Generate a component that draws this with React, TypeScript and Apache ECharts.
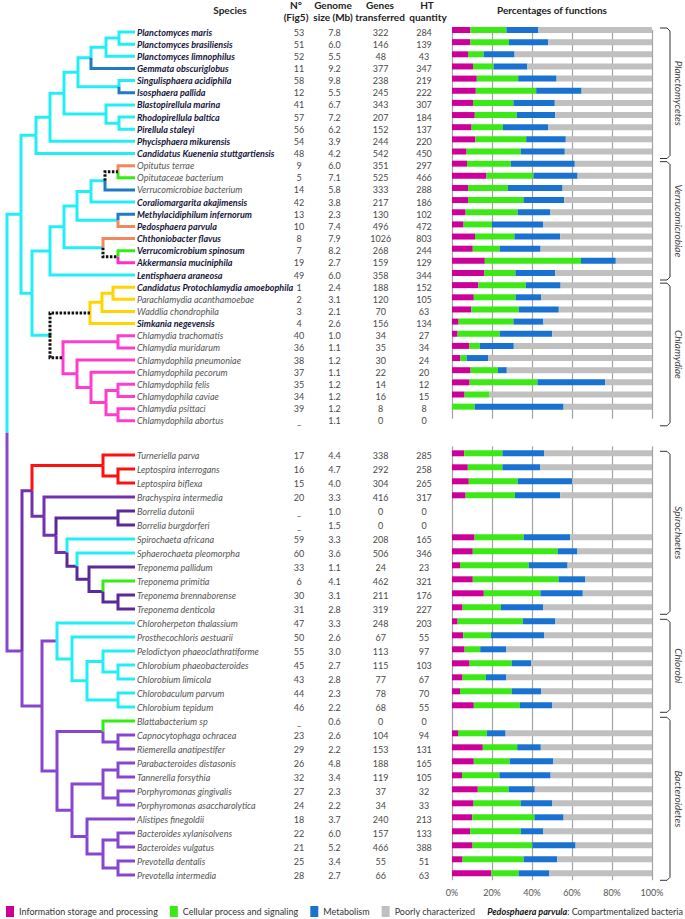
import React, { useEffect, useRef } from "react";
import * as echarts from "echarts";

const FONT = "Lato, 'Noto Sans', sans-serif";

// ---------- colours ----------
const C_INFO = "#cc0099";
const C_CELL = "#3de817";
const C_META = "#1a72d0";
const C_POOR = "#c0c0c0";

const CY = "#22eef6";
const DB = "#1e7bc6";
const OR = "#f2895c";
const GR = "#33ee11";
const MG = "#ff2ecb";
const YE = "#ffd400";
const PK = "#ff3dcc";
const BK = "#111111";
const RD = "#ff1010";
const SP = "#7232b0";
const DP = "#5a2a98";
const BP = "#8746d0";

// ---------- data: top block ----------
const speciesTop = [
  "Planctomyces maris", "Planctomyces brasiliensis", "Planctomyces limnophilus", "Gemmata obscuriglobus",
  "Singulisphaera acidiphila", "Isosphaera pallida", "Blastopirellula marina", "Rhodopirellula baltica",
  "Pirellula staleyi", "Phycisphaera mikurensis", "Candidatus Kuenenia stuttgartiensis", "Opitutus terrae",
  "Opitutaceae bacterium", "Verrucomicrobiae bacterium", "Coraliomargarita akajimensis", "Methylacidiphilum infernorum",
  "Pedosphaera parvula", "Chthoniobacter flavus", "Verrucomicrobium spinosum", "Akkermansia muciniphila",
  "Lentisphaera araneosa", "Candidatus Protochlamydia amoebophila", "Parachlamydia acanthamoebae", "Waddlia chondrophila",
  "Simkania negevensis", "Chlamydia trachomatis", "Chlamydia muridarum", "Chlamydophila pneumoniae",
  "Chlamydophila pecorum", "Chlamydophila felis", "Chlamydophila caviae", "Chlamydia psittaci", "Chlamydophila abortus",
];
const figTop = [53, 51, 52, 11, 58, 12, 41, 57, 56, 54, 48, 9, 5, 14, 42, 13, 10, 8, 7, 19, 49, 1, 2, 3, 4, 40, 36, 38, 37, 35, 34, 39, null];
const genomeTop = [7.8, 6.0, 5.5, 9.2, 9.8, 5.5, 6.7, 7.2, 6.2, 3.9, 4.2, 6.0, 7.1, 5.8, 3.8, 2.3, 7.4, 7.9, 8.2, 2.7, 6.0, 2.4, 3.1, 2.1, 2.6, 1.0, 1.1, 1.2, 1.1, 1.2, 1.2, 1.2, 1.1];
const genesTop = [322, 146, 48, 377, 238, 245, 343, 207, 152, 244, 542, 351, 525, 333, 217, 130, 496, 1026, 268, 159, 358, 188, 120, 70, 156, 34, 35, 30, 22, 14, 16, 8, 0];
const htTop = [284, 139, 43, 347, 219, 222, 307, 184, 137, 220, 450, 297, 466, 288, 186, 102, 472, 803, 244, 129, 344, 152, 105, 63, 134, 27, 34, 24, 20, 12, 15, 8, 0];
const infoTop = [9.2, 9.2, 8.0, 10.5, 12.4, 11.9, 10.5, 11.4, 9.8, 11.7, 7.3, 7.5, 17.2, 8.0, 8.0, 6.8, 5.8, 11.5, 10.4, 16.4, 16.2, 13.2, 10.9, 9.7, 3.3, 2.8, 8.7, 4.2, 9.3, 8.8, 6.3, 0, null];
const cellTop = [18.0, 19.3, 7.8, 10.3, 20.7, 30.2, 20.2, 21.0, 15.7, 25.4, 27.1, 21.9, 23.5, 19.9, 27.7, 26.0, 14.2, 19.7, 13.4, 48.1, 15.5, 23.7, 20.9, 23.7, 27.4, 21.1, 5.2, 3.1, 13.7, 33.9, 12.5, 11.4, null];
const metaTop = [16.0, 19.6, 15.5, 16.9, 19.2, 22.7, 20.7, 19.2, 22.7, 19.8, 22.0, 32.0, 22.1, 27.4, 20.4, 16.4, 25.5, 22.9, 20.5, 17.4, 19.9, 17.4, 12.7, 20.0, 15.0, 26.2, 17.0, 10.7, 4.4, 33.9, 0, 44.4, null];
const poorTop = [56.8, 51.9, 68.7, 62.3, 47.7, 35.2, 48.6, 48.4, 51.8, 43.1, 43.6, 38.6, 37.2, 44.7, 43.9, 50.8, 54.5, 45.9, 55.7, 18.1, 48.4, 45.7, 55.5, 46.6, 54.3, 49.9, 69.1, 82.0, 72.6, 23.4, 81.2, 44.2, null];

// ---------- data: bottom block ----------
const speciesBottom = [
  "Turneriella parva", "Leptospira interrogans", "Leptospira biflexa", "Brachyspira intermedia", "Borrelia dutonii",
  "Borrelia burgdorferi", "Spirochaeta africana", "Sphaerochaeta pleomorpha", "Treponema pallidum", "Treponema primitia",
  "Treponema brennaborense", "Treponema denticola", "Chloroherpeton thalassium", "Prosthecochloris aestuarii",
  "Pelodictyon phaeoclathratiforme", "Chlorobium phaeobacteroides", "Chlorobium limicola", "Chlorobaculum parvum",
  "Chlorobium tepidum", "Blattabacterium sp", "Capnocytophaga ochracea", "Riemerella anatipestifer",
  "Parabacteroides distasonis", "Tannerella forsythia", "Porphyromonas gingivalis", "Porphyromonas asaccharolytica",
  "Alistipes finegoldii", "Bacteroides xylanisolvens", "Bacteroides vulgatus", "Prevotella dentalis", "Prevotella intermedia",
];
const figBottom = [17, 16, 15, 20, null, null, 59, 60, 33, 6, 30, 31, 47, 50, 55, 45, 43, 44, 46, null, 23, 29, 26, 32, 27, 24, 18, 22, 21, 25, 28];
const genomeBottom = [4.4, 4.7, 4.0, 3.3, 1.0, 1.5, 3.3, 3.6, 1.1, 4.1, 3.1, 2.8, 3.3, 2.6, 3.0, 2.7, 2.8, 2.3, 2.2, 0.6, 2.6, 2.2, 4.8, 3.4, 2.3, 2.2, 3.7, 6.0, 5.2, 3.4, 2.7];
const genesBottom = [338, 292, 304, 416, 0, 0, 208, 506, 24, 462, 211, 319, 248, 67, 113, 115, 77, 78, 68, 0, 104, 153, 188, 119, 37, 34, 240, 157, 466, 55, 66];
const htBottom = [285, 258, 265, 317, 0, 0, 165, 346, 23, 321, 176, 227, 203, 55, 97, 103, 67, 70, 55, 0, 94, 131, 165, 105, 32, 33, 213, 133, 388, 51, 63];
const infoBottom = [6.1, 7.9, 8.4, 6.8, null, null, 11.3, 10.4, 4.0, 10.4, 15.9, 5.3, 2.8, 5.6, 6.3, 8.8, 5.3, 4.0, 10.9, null, 3.0, 15.4, 10.9, 5.0, 12.9, 10.8, 10.1, 9.1, 10.3, 5.3, 19.7];
const cellBottom = [19.1, 17.3, 24.5, 24.7, null, null, 24.5, 42.4, 34.4, 42.9, 28.3, 19.2, 32.6, 13.9, 7.8, 21.0, 11.6, 25.8, 23.0, null, 14.4, 17.2, 17.9, 18.7, 15.4, 23.5, 31.1, 25.3, 29.9, 30.5, 13.6];
const metaBottom = [21.0, 19.0, 27.2, 22.6, null, null, 23.3, 9.9, 19.4, 13.4, 21.2, 21.0, 16.1, 26.5, 13.1, 9.9, 10.1, 14.7, 16.3, null, 9.4, 11.8, 21.9, 25.6, 13.1, 15.9, 14.6, 11.3, 21.6, 16.8, 15.4];
const poorBottom = [53.8, 55.8, 39.9, 45.9, null, null, 40.9, 37.3, 42.2, 33.3, 34.6, 54.5, 48.5, 54.0, 72.8, 60.3, 73.0, 55.5, 49.8, null, 73.2, 55.6, 49.3, 50.7, 58.6, 49.8, 44.2, 54.3, 38.2, 47.4, 51.3];

const boldSpecies = [
  "Planctomyces maris", "Planctomyces brasiliensis", "Planctomyces limnophilus", "Gemmata obscuriglobus",
  "Singulisphaera acidiphila", "Isosphaera pallida", "Blastopirellula marina", "Rhodopirellula baltica",
  "Pirellula staleyi", "Phycisphaera mikurensis", "Candidatus Kuenenia stuttgartiensis",
  "Coraliomargarita akajimensis", "Methylacidiphilum infernorum", "Pedosphaera parvula", "Chthoniobacter flavus",
  "Verrucomicrobium spinosum", "Akkermansia muciniphila", "Lentisphaera araneosa",
  "Candidatus Protochlamydia amoebophila", "Simkania negevensis",
];

const functionNames = ["Information storage and processing", "Cellular process and signaling", "Metabolism", "Poorly characterized"];
const functionColors = [C_INFO, C_CELL, C_META, C_POOR];
const percentTicks = [0, 20, 40, 60, 80, 100];

const groups = [
  { name: "Planctomycetes", block: 0, from: 0, to: 10 },
  { name: "Verrucomicrobiae", block: 0, from: 11, to: 20 },
  { name: "Chlamydiae", block: 0, from: 21, to: 32 },
  { name: "Spirochaetes", block: 1, from: 0, to: 11 },
  { name: "Chlorobi", block: 1, from: 12, to: 18 },
  { name: "Bacteroidetes", block: 1, from: 19, to: 30 },
];

// ---------- tree (depth of each node, leaves at TREE_MAX) ----------
type TNode = { d?: number; name?: string; ch?: TNode[]; c?: string; dash?: boolean; sub?: string; row?: [number, number] };
const N = (d: number, ch: TNode[], o: Partial<TNode> = {}): TNode => ({ d, ch, ...o });
const L = (name: string, c?: string): TNode => ({ name, c });
const TREE_MAX = 128;

const topTree = N(14, [
  N(29, [
    N(43, [
      N(57, [
        N(71, [
          N(84, [
            N(99, [N(112, [L("Planctomyces maris"), L("Planctomyces brasiliensis")]), L("Planctomyces limnophilus")]),
            L("Gemmata obscuriglobus", DB),
          ]),
          N(112, [L("Singulisphaera acidiphila"), L("Isosphaera pallida", DB)]),
        ]),
        N(99, [L("Blastopirellula marina"), N(112, [L("Rhodopirellula baltica"), L("Pirellula staleyi")])]),
      ]),
      L("Phycisphaera mikurensis"),
    ]),
    L("Candidatus Kuenenia stuttgartiensis"),
  ]),
  N(25, [
    N(43, [
      N(57, [
        N(70, [
          N(84, [
            N(98, [
              N(111, [L("Opitutus terrae", OR), L("Opitutaceae bacterium", GR)], { c: BK, dash: true }),
              L("Verrucomicrobiae bacterium", DB),
            ]),
            L("Coraliomargarita akajimensis"),
          ]),
          N(111, [L("Methylacidiphilum infernorum", DB), L("Pedosphaera parvula", OR)]),
        ]),
        N(96, [
          L("Chthoniobacter flavus", OR),
          N(111, [L("Verrucomicrobium spinosum", GR), L("Akkermansia muciniphila", MG)], { c: BK, dash: true }),
        ]),
      ]),
      L("Lentisphaera araneosa"),
    ]),
    N(43, [
      N(83, [
        N(95, [N(106, [L("Candidatus Protochlamydia amoebophila"), L("Parachlamydia acanthamoebae")]), L("Waddlia chondrophila")]),
        L("Simkania negevensis"),
      ], { c: BK, dash: true, sub: YE }),
      N(56, [
        N(111, [L("Chlamydia trachomatis"), L("Chlamydia muridarum")]),
        N(70, [
          L("Chlamydophila pneumoniae"),
          N(84, [
            L("Chlamydophila pecorum"),
            N(99, [N(111, [L("Chlamydophila felis"), L("Chlamydophila caviae")]), N(111, [L("Chlamydia psittaci"), L("Chlamydophila abortus")])]),
          ]),
        ]),
      ], { c: BK, dash: true, sub: PK }),
    ]),
  ]),
], { c: CY });

const bottomTree = N(15, [
  N(25, [
    N(96, [L("Turneriella parva"), N(111, [L("Leptospira interrogans"), L("Leptospira biflexa")])], { c: RD }),
    N(37, [
      L("Brachyspira intermedia"),
      N(49, [
        N(111, [L("Borrelia dutonii"), L("Borrelia burgdorferi")], { c: DP }),
        N(60, [
          L("Spirochaeta africana", CY),
          N(70, [
            L("Sphaerochaeta pleomorpha", CY),
            N(82, [
              L("Treponema pallidum"),
              N(96, [L("Treponema primitia", GR), N(111, [L("Treponema brennaborense"), L("Treponema denticola")])]),
            ]),
          ], { c: DP }),
        ]),
      ]),
    ]),
  ], { c: SP }),
  N(35, [
    N(50, [
      L("Chloroherpeton thalassium"),
      N(65, [
        L("Prosthecochloris aestuarii"),
        N(80, [
          N(96, [L("Pelodictyon phaeoclathratiforme"), N(111, [L("Chlorobium phaeobacteroides"), L("Chlorobium limicola")])]),
          N(111, [L("Chlorobaculum parvum"), L("Chlorobium tepidum")]),
        ]),
      ]),
    ], { c: BP, sub: CY }),
    N(50, [
      N(96, [L("Blattabacterium sp", GR), N(111, [L("Capnocytophaga ochracea"), L("Riemerella anatipestifer")])]),
      N(65, [
        N(96, [N(111, [L("Parabacteroides distasonis"), L("Tannerella forsythia")]), N(111, [L("Porphyromonas gingivalis"), L("Porphyromonas asaccharolytica")])]),
        N(80, [
          L("Alistipes finegoldii"),
          N(96, [N(111, [L("Bacteroides xylanisolvens"), L("Bacteroides vulgatus")]), N(111, [L("Prevotella dentalis"), L("Prevotella intermedia")])]),
        ]),
      ]),
    ]),
  ], { c: BP }),
], { c: BP, row: [1, 14] });

const treeRoot = N(0, [topTree, bottomTree]);

// ---------- option ----------
const labelAxis = (gridIndex: number, data: string[], margin: number, align: string, formatter: any, extra: any = {}) => ({
  type: "category", gridIndex, data, inverse: true, position: "right",
  axisLine: { show: false, onZero: false }, axisTick: { show: false }, splitLine: { show: false },
  axisLabel: { interval: 0, margin, align, formatter, fontSize: 9, color: "#4a4a4a", fontFamily: FONT, ...extra },
});

const nameFmt = (v: string) => (boldSpecies.includes(v) ? `{b|${v}}` : `{n|${v}}`);
const nameRich = {
  rich: {
    b: { fontWeight: "bold", fontStyle: "italic", fontSize: 9, color: "#15153a", fontFamily: FONT },
    n: { fontStyle: "italic", fontSize: 9, color: "#555", fontFamily: FONT },
  },
};

function columnAxes(gridIndex: number, sp: string[], fig: any[], genome: number[], genes: number[], ht: number[]) {
  return [
    labelAxis(gridIndex, sp, 2, "left", nameFmt, nameRich),
    labelAxis(gridIndex, sp, 164, "center", (_v: string, i: number) => (fig[i] == null ? "_" : String(fig[i]))),
    labelAxis(gridIndex, sp, 199.5, "center", (_v: string, i: number) => genome[i].toFixed(1)),
    labelAxis(gridIndex, sp, 245.7, "center", (_v: string, i: number) => String(genes[i])),
    labelAxis(gridIndex, sp, 289, "center", (_v: string, i: number) => String(ht[i])),
  ];
}

function barSeries(xi: number, yi: number, stack: string, arrays: any[][]) {
  return arrays.map((data, k) => ({
    type: "bar", name: functionNames[k], data, xAxisIndex: xi, yAxisIndex: yi, stack,
    barWidth: 6, clip: false, silent: true, itemStyle: { color: functionColors[k] },
    emphasis: { disabled: true },
  }));
}

function buildOption() {
  const gridBase = { left: 7, width: 128, containLabel: false, outerBoundsMode: "none" };
  const barGrid = { left: 452, width: 200, containLabel: false, outerBoundsMode: "none" };
  const pctAxis = (gridIndex: number, showLabels: boolean) => ({
    type: "value", gridIndex, min: percentTicks[0], max: percentTicks[percentTicks.length - 1], interval: 20,
    axisLine: { show: false }, axisTick: { show: false },
    splitLine: { show: true, lineStyle: { color: "#a3a3a3", width: 1.2 } },
    axisLabel: { show: showLabels, formatter: "{value}%", fontSize: 9, color: "#555", margin: 8, fontFamily: FONT },
  });
  return {
    animation: false,
    backgroundColor: "#ffffff",
    textStyle: { fontFamily: FONT },
    grid: [
      { ...gridBase, top: 25.925, height: 400.95 },
      { ...gridBase, top: 448, height: 434 },
      { ...barGrid, top: 30, height: 388.8 },
      { ...barGrid, top: 446.3, height: 434 },
    ],
    xAxis: [
      { type: "value", gridIndex: 0, min: 0, max: TREE_MAX, show: false },
      { type: "value", gridIndex: 1, min: 0, max: TREE_MAX, show: false },
      pctAxis(2, false),
      pctAxis(3, true),
    ],
    yAxis: [
      ...columnAxes(0, speciesTop, figTop, genomeTop, genesTop, htTop),
      ...columnAxes(1, speciesBottom, figBottom, genomeBottom, genesBottom, htBottom),
      { type: "category", gridIndex: 2, data: speciesTop, inverse: true, boundaryGap: false, show: false, axisLine: { onZero: false } },
      { type: "category", gridIndex: 3, data: speciesBottom, inverse: true, boundaryGap: true, show: false, axisLine: { onZero: false } },
    ],
    legend: {
      data: functionNames, left: 1, top: 901, itemWidth: 8, itemHeight: 11, itemGap: 12, icon: "rect",
      selectedMode: false, textStyle: { fontSize: 9, color: "#333", fontFamily: FONT },
    },
    series: [
      ...barSeries(2, 10, "top", [infoTop, cellTop, metaTop, poorTop]),
      ...barSeries(3, 11, "bottom", [infoBottom, cellBottom, metaBottom, poorBottom]),
    ],
  };
}

function buildGraphics(chart: any) {
  const els: any[] = [];
  const leafIndex: Record<string, [number, number]> = {};
  speciesTop.forEach((s, i) => (leafIndex[s] = [0, i]));
  speciesBottom.forEach((s, i) => (leafIndex[s] = [1, i]));
  const depthPx = (d: number) => chart.convertToPixel({ xAxisIndex: 0 }, d) as number;
  const rowPx = (block: number, i: number) => chart.convertToPixel({ yAxisIndex: block === 0 ? 0 : 5 }, i) as number;
  const barRowPx = (block: number, i: number) => chart.convertToPixel({ yAxisIndex: block === 0 ? 10 : 11 }, i) as number;

  // tree
  const pos = new Map<TNode, { x: number; y: number }>();
  const place = (n: TNode): { x: number; y: number } => {
    let p;
    if (n.name !== undefined) {
      const loc = leafIndex[n.name];
      p = { x: depthPx(TREE_MAX), y: rowPx(loc[0], loc[1]) };
    } else {
      const kids = n.ch!.map(place);
      const y = n.row ? rowPx(n.row[0], n.row[1]) : (kids[0].y + kids[kids.length - 1].y) / 2;
      p = { x: depthPx(n.d!), y };
    }
    pos.set(n, p);
    return p;
  };
  place(treeRoot);
  const draw = (n: TNode, sub: string) => {
    const p = pos.get(n)!;
    n.ch!.forEach((k) => {
      const kp = pos.get(k)!;
      const color = k.c || sub;
      els.push({
        type: "polyline", silent: true, z: k.dash ? 12 : 10,
        shape: { points: [[p.x, p.y], [p.x, kp.y], [kp.x, kp.y]] },
        style: { stroke: color, lineWidth: 3, fill: null, lineDash: k.dash ? [2.5, 1.5] : null, lineJoin: "miter", lineCap: "butt" },
      });
      if (k.ch) draw(k, k.sub || (k.dash ? sub : color));
    });
  };
  draw(treeRoot, CY);

  // brackets
  groups.forEach((g) => {
    const y0 = barRowPx(g.block, g.from) - 2;
    const y1 = barRowPx(g.block, g.to) + 7;
    els.push({
      type: "polyline", silent: true,
      shape: { points: [[660, y0], [667, y0], [670, y0 + 3], [670, y1 - 3], [667, y1], [660, y1]] },
      style: { stroke: "#333", lineWidth: 1, fill: null },
    });
    els.push({
      type: "text", silent: true, x: 679, y: (y0 + y1) / 2, rotation: -Math.PI / 2,
      style: { text: g.name, fontStyle: "italic", fontSize: 10, fill: "#444", align: "center", verticalAlign: "middle", fontFamily: FONT },
    });
  });

  // headers
  const hdr = (text: string, x: number, y: number) => ({
    type: "text", silent: true, x, y,
    style: { text, fontWeight: "bold", fontSize: 10, fill: "#222", align: "center", verticalAlign: "middle", fontFamily: FONT },
  });
  els.push(hdr("Species", 230, 10));
  els.push(hdr("N°", 296, 5), hdr("(Fig5)", 296, 17));
  els.push(hdr("Genome", 333, 5), hdr("size (Mb)", 333, 17));
  els.push(hdr("Genes", 380, 5), hdr("transferred", 380, 17));
  els.push(hdr("HT", 427, 5), hdr("quantity", 428, 17));
  els.push(hdr("Percentages of functions", 552, 10));

  // legend note
  els.push({
    type: "text", silent: true, x: 683, y: 911.5,
    style: {
      text: "{b|Pedosphaera parvula}: Compartmentalized bacteria", fontSize: 9, fill: "#333", align: "right",
      verticalAlign: "middle", fontFamily: FONT,
      rich: { b: { fontWeight: "bold", fontStyle: "italic", fontSize: 9, fill: "#111", fontFamily: FONT } },
    },
  });
  return els;
}

export default function App() {
  const ref = useRef<HTMLDivElement>(null);
  useEffect(() => {
    const chart = echarts.init(ref.current!, null, { renderer: "svg" });
    chart.setOption(buildOption() as any);
    chart.setOption({ graphic: { elements: buildGraphics(chart) } } as any);
    return () => chart.dispose();
  }, []);
  return <div ref={ref} style={{ position: "absolute", left: 0, top: 0, width: 685, height: 919, background: "#fff" }} />;
}
